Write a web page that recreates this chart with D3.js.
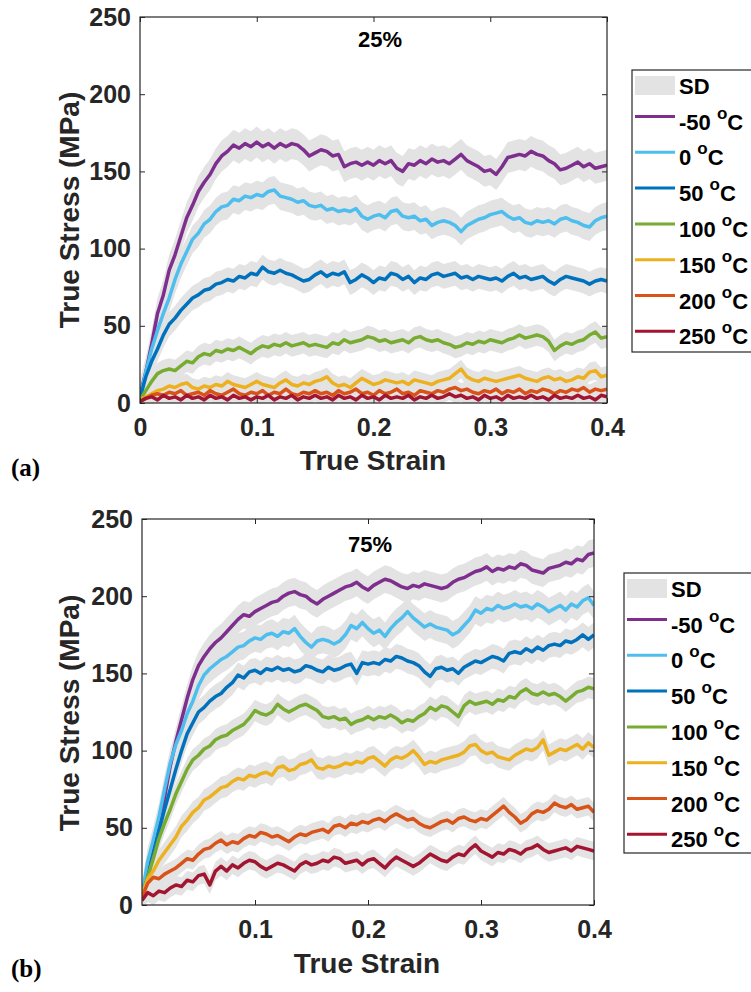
<!DOCTYPE html>
<html>
<head>
<meta charset="utf-8">
<script src="https://cdn.jsdelivr.net/npm/d3@7"></script>
<style>
body { margin: 0; background: #fff; }
text { font-family: "Liberation Sans", Arial, sans-serif; font-weight: bold; }
</style>
</head>
<body>
<div class="container"></div>
<script>
// true strain, shared by every curve
var strain = [0, 0.005, 0.01, 0.015, 0.02, 0.025, 0.03, 0.035, 0.04, 0.045,
  0.05, 0.055, 0.06, 0.065, 0.07, 0.075, 0.08, 0.085, 0.09, 0.095,
  0.1, 0.105, 0.11, 0.115, 0.12, 0.125, 0.13, 0.135, 0.14, 0.145,
  0.15, 0.155, 0.16, 0.165, 0.17, 0.175, 0.18, 0.185, 0.19, 0.195,
  0.2, 0.205, 0.21, 0.215, 0.22, 0.225, 0.23, 0.235, 0.24, 0.245,
  0.25, 0.255, 0.26, 0.265, 0.27, 0.275, 0.28, 0.285, 0.29, 0.295,
  0.3, 0.305, 0.31, 0.315, 0.32, 0.325, 0.33, 0.335, 0.34, 0.345,
  0.35, 0.355, 0.36, 0.365, 0.37, 0.375, 0.38, 0.385, 0.39, 0.395, 0.4];

var temps = ["-50", "0", "50", "100", "150", "200", "250"];
var colors = ["#7E2F8E", "#4DBEEE", "#0072BD", "#77AC30", "#EDB120", "#D95319", "#A2142F"];

var yTicks = [0, 50, 100, 150, 200, 250];
var xTicksA = [0, 0.1, 0.2, 0.3, 0.4];
var xTicksB = [0.1, 0.2, 0.3, 0.4];

// (a) 25%
var a_m50 = [5,20,38,58,70,86,96,108,120,128, 137,143,148,155,160,163,167,165,168,166,
  169,166,168,165,168,166,168,167,164,160, 162,164,163,160,161,153,155,156,154,156,
  154,157,155,157,152,150,155,154,157,155, 158,156,157,155,158,161,157,155,153,150,
  151,148,153,159,160,161,160,163,161,160, 157,155,151,152,154,156,153,155,152,153, 154];
var a_0 = [3,20,35,47,58,68,80,90,98,106, 110,116,119,124,127,128,132,131,134,133,
  135,134,137,138,134,133,132,130,131,128, 127,128,125,126,124,125,124,126,121,119,
  121,122,120,124,125,121,120,121,118,119, 115,117,118,117,115,111,115,117,119,120,
  122,123,124,121,119,120,117,116,118,117, 118,116,119,120,118,117,115,114,118,120, 121];
var a_50 = [3,17,27,35,44,51,55,60,64,68, 70,73,74,77,78,80,79,82,81,84,
  83,88,85,84,86,84,83,81,79,80, 83,85,82,84,83,85,78,80,83,81,
  78,81,80,84,83,80,82,78,81,80, 83,84,82,83,84,81,82,80,82,81,
  80,81,79,82,84,81,82,80,81,82, 79,77,80,82,81,80,79,77,79,80, 79];
var a_100 = [2,8,14,19,21,22,21,24,27,26, 30,32,31,34,33,35,34,36,34,32,
  35,37,36,38,37,39,37,38,39,37, 38,37,36,39,38,41,39,40,41,43,
  42,40,41,39,40,41,39,42,43,41, 40,41,39,38,36,37,39,38,40,39,
  41,40,39,41,42,44,42,43,44,43, 40,34,37,39,38,40,41,44,46,42, 43];
var a_150 = [2,4,6,8,9,11,10,12,13,10, 9,11,10,12,11,14,12,11,10,12,
  14,12,11,10,13,15,12,11,13,12, 14,15,17,13,11,12,10,13,16,14,
  12,13,15,14,13,14,12,15,14,13, 12,14,15,16,19,22,17,15,14,16,
  15,14,15,16,17,18,16,15,14,16, 17,15,16,14,15,17,16,20,21,17, 18];
var a_200 = [1,3,5,6,5,7,6,8,5,6, 7,5,8,6,5,7,9,6,5,7,
  6,8,5,7,6,9,6,5,7,6, 8,6,7,5,8,6,7,9,6,7,
  5,8,6,7,9,6,7,5,8,7, 6,8,7,9,10,8,9,7,6,8,
  7,9,6,8,7,9,6,8,7,9, 8,6,8,7,9,8,10,7,9,8, 9];
var a_250 = [1,3,4,2,5,3,4,2,5,3, 4,2,5,3,4,2,5,3,4,2,
  4,3,5,2,4,3,5,2,4,3, 5,3,4,2,5,3,4,2,5,3,
  4,2,5,3,4,3,5,2,4,3, 5,3,4,6,4,5,3,4,2,5,
  3,4,2,5,3,4,3,5,3,4, 2,5,3,4,3,5,3,4,2,5, 4];
var sdA = [10, 9, 8, 7, 6, 5, 4];

// (b) 75%
var b_m50 = [5,25,38,52,70,90,106,120,134,146, 155,161,166,170,173,177,181,185,188,187,
  190,192,194,196,197,200,202,203,201,200, 197,195,198,200,202,204,206,207,209,206,
  204,207,209,211,210,208,206,205,207,206, 208,207,206,205,206,209,211,212,214,216,
  217,219,216,218,217,219,218,221,220,217, 216,215,218,219,220,222,221,224,223,227, 228];
var b_0 = [6,28,42,57,75,92,104,113,124,132, 142,149,153,156,159,161,164,167,168,171,
  173,172,175,176,174,177,176,179,174,170, 167,171,172,171,169,171,175,181,179,183,
  179,176,178,174,179,183,186,190,186,183, 180,182,180,179,178,175,177,181,185,191,
  189,192,191,194,192,193,195,193,194,192, 195,193,190,192,194,191,195,193,197,199, 194];
var b_50 = [4,18,33,48,62,75,88,100,111,118, 125,128,132,135,137,141,144,149,147,151,
  152,150,153,152,154,152,153,151,152,155, 154,152,151,154,152,153,155,156,150,157,
  156,157,156,159,158,161,160,158,157,155, 151,148,153,154,152,153,150,154,156,158,
  157,159,161,160,158,163,164,163,166,164, 167,165,168,169,168,171,170,172,175,172, 175];
var b_100 = [5,18,30,43,53,62,72,80,88,94, 97,101,103,107,109,110,113,115,117,121,
  126,124,123,125,130,127,125,127,129,130, 128,126,122,121,122,120,121,117,119,120,
  122,120,122,121,123,121,118,120,119,122, 124,128,126,129,128,125,122,129,132,130,
  131,132,130,133,132,135,134,138,140,137, 136,138,136,137,135,132,135,138,139,141, 140];
var b_150 = [6,17,22,29,34,39,44,51,55,60, 63,68,70,73,76,77,80,82,81,84,
  83,85,86,84,89,90,87,88,91,92, 94,89,88,90,89,90,92,91,93,92,
  95,96,93,90,94,96,95,97,100,96, 91,93,92,94,95,96,97,99,103,104,
  100,98,99,96,95,94,97,99,101,100, 102,107,97,99,101,100,102,104,101,105, 102];
var b_200 = [5,14,18,17,20,22,24,27,30,29, 33,36,37,40,42,39,41,40,43,45,
  44,47,46,44,45,43,41,44,46,45, 47,48,49,47,51,52,50,53,52,54,
  53,55,56,54,57,59,57,55,56,53, 51,50,52,54,55,53,56,57,55,54,
  56,55,58,61,64,60,57,53,55,59, 61,60,62,66,64,63,65,62,63,64, 60];
var b_250 = [3,8,6,9,8,11,13,12,16,15, 19,20,13,22,25,22,26,24,27,29,
  28,25,23,25,27,26,24,22,26,28, 26,27,29,28,31,30,27,28,29,26,
  29,30,27,24,28,31,29,27,25,27, 30,33,31,29,28,31,33,32,36,39,
  35,33,31,34,33,36,35,33,36,37, 39,36,34,35,36,37,35,38,37,36, 35];
var sdB = [9, 9, 8, 7, 7, 6, 6];

var svg = d3.select("body").select(".container")
    .append("svg")
    .attr("width", 751)
    .attr("height", 992)
    .style("background", "#fff");

function drawPanel(p) {
    var x = d3.scaleLinear().domain([0, 0.4]).range([0, p.width]);
    var y = d3.scaleLinear().domain([0, 250]).range([p.height, 0]);

    var g = svg.append("g")
        .attr("transform", "translate(" + p.left + "," + p.top + ")");

    g.append("clipPath").attr("id", p.id)
        .append("rect").attr("width", p.width).attr("height", p.height);

    var plot = g.append("g").attr("clip-path", "url(#" + p.id + ")");

    // SD bands first, then the mean curves
    p.series.forEach(function(vals, i) {
        var area = d3.area()
            .x(function(d, j) { return x(strain[j]); })
            .y0(function(d) { return y(d - p.sd[i]); })
            .y1(function(d) { return y(d + p.sd[i]); });
        plot.append("path")
            .datum(vals)
            .attr("fill", "#e3e3e3")
            .attr("d", area);
    });

    p.series.forEach(function(vals, i) {
        var line = d3.line()
            .x(function(d, j) { return x(strain[j]); })
            .y(function(d) { return y(d); });
        plot.append("path")
            .datum(vals)
            .attr("fill", "none")
            .attr("stroke", colors[i])
            .attr("stroke-width", 3.5)
            .attr("stroke-linejoin", "round")
            .attr("d", line);
    });

    var fmt = function(d) { return d; };

    var ax = g.append("g")
        .call(d3.axisLeft(y).tickValues(yTicks).tickSize(-5).tickPadding(9).tickFormat(fmt));
    ax.selectAll("text").style("font-size", "25px");

    var bx = g.append("g")
        .attr("transform", "translate(0," + p.height + ")")
        .call(d3.axisBottom(x).tickValues(p.xTicks).tickSize(-5).tickPadding(15).tickFormat(fmt));
    bx.selectAll("text").style("font-size", "25px");

    g.append("g")
        .call(d3.axisTop(x).tickValues(p.xTicks).tickSize(-5).tickFormat(""));
    g.append("g")
        .attr("transform", "translate(" + p.width + ",0)")
        .call(d3.axisRight(y).tickValues(yTicks).tickSize(-5).tickFormat(""));

    g.selectAll(".domain").remove();
    g.selectAll(".tick line").attr("stroke", "#262626");
    g.selectAll(".tick text").attr("fill", "#262626");

    g.append("rect")
        .attr("width", p.width)
        .attr("height", p.height)
        .attr("fill", "none")
        .attr("stroke", "#262626")
        .attr("stroke-width", 1.2);

    // titles and labels
    svg.append("text")
        .attr("x", p.titleX).attr("y", p.titleY)
        .attr("text-anchor", "middle")
        .style("font-size", "22px")
        .attr("fill", "#000")
        .text(p.title);

    svg.append("text")
        .attr("transform", "translate(79," + p.yLabelY + ") rotate(-90)")
        .attr("text-anchor", "middle")
        .style("font-size", "28px")
        .attr("fill", "#262626")
        .text("True Stress (MPa)");

    svg.append("text")
        .attr("x", p.xLabelX).attr("y", p.xLabelY)
        .attr("text-anchor", "middle")
        .style("font-size", "28px")
        .attr("fill", "#262626")
        .text("True Strain");

    svg.append("text")
        .attr("x", 11).attr("y", p.tagY)
        .style("font-family", "'Liberation Serif', 'Times New Roman', serif")
        .style("font-size", "25px")
        .attr("fill", "#000")
        .text(p.tag);

    // legend
    var lg = svg.append("g")
        .attr("transform", "translate(" + p.legX + "," + p.legY + ")");
    lg.append("rect")
        .attr("width", 160)
        .attr("height", p.legH)
        .attr("fill", "#fff")
        .attr("stroke", "#262626")
        .attr("stroke-width", 1.2);
    lg.append("rect")
        .attr("x", 3).attr("y", 6)
        .attr("width", 40).attr("height", 19)
        .attr("fill", "#e3e3e3");
    lg.append("text")
        .attr("x", 47).attr("y", 24)
        .style("font-size", "22px")
        .attr("fill", "#000")
        .text("SD");

    temps.forEach(function(t, i) {
        var ly = 46.5 + i * 35.8;
        lg.append("line")
            .attr("x1", 3).attr("x2", 43)
            .attr("y1", ly).attr("y2", ly)
            .attr("stroke", colors[i])
            .attr("stroke-width", 3);
        var tx = lg.append("text")
            .attr("x", 47).attr("y", ly + 13)
            .style("font-size", "22px")
            .attr("fill", "#000");
        tx.append("tspan").text(t + " ");
        tx.append("tspan").attr("dy", -11).style("font-size", "17px").text("o");
        tx.append("tspan").attr("dy", 11).text("C");
    });
}

drawPanel({
    id: "clipA", left: 140, top: 17, width: 467, height: 386,
    series: [a_m50, a_0, a_50, a_100, a_150, a_200, a_250], sd: sdA,
    xTicks: xTicksA, title: "25%", titleX: 380, titleY: 47,
    yLabelY: 210, xLabelX: 373, xLabelY: 470, tag: "(a)", tagY: 476,
    legX: 632, legY: 70, legH: 282
});

drawPanel({
    id: "clipB", left: 142, top: 519, width: 452, height: 386,
    series: [b_m50, b_0, b_50, b_100, b_150, b_200, b_250], sd: sdB,
    xTicks: xTicksB, title: "75%", titleX: 370, titleY: 552,
    yLabelY: 713, xLabelX: 367, xLabelY: 973, tag: "(b)", tagY: 977,
    legX: 624, legY: 573, legH: 280
});
</script>
</body>
</html>
